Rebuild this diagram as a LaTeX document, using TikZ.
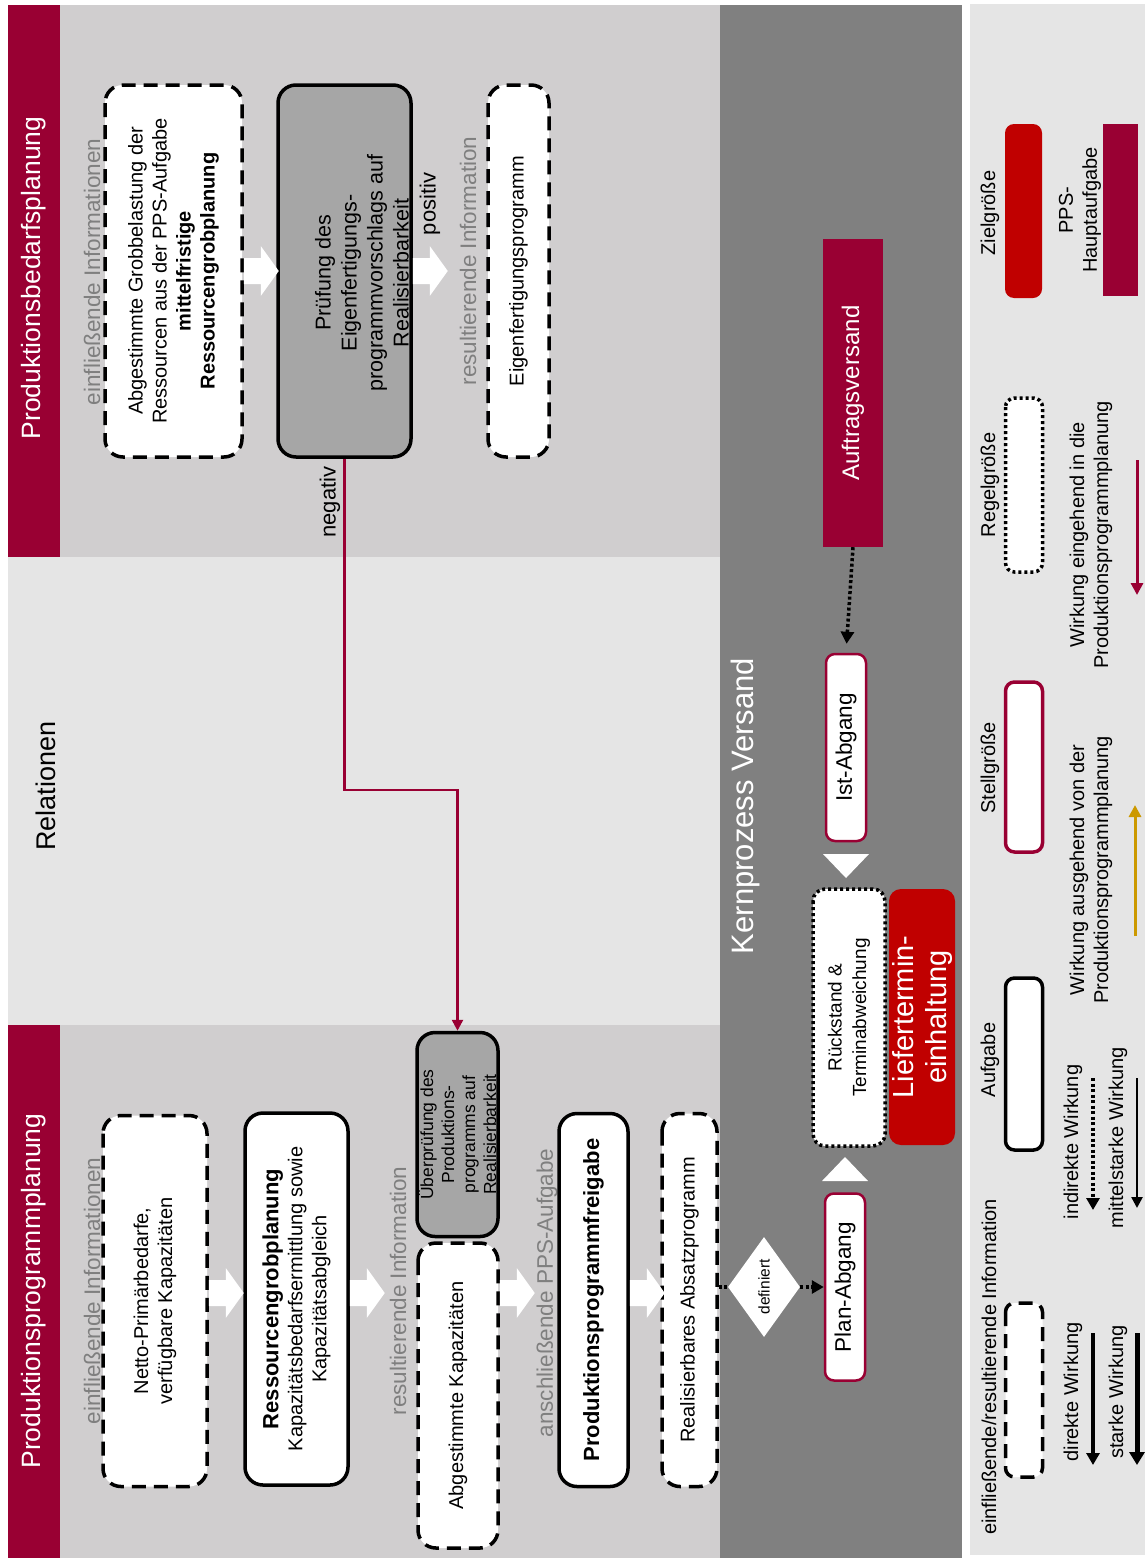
\documentclass[tikz,border=0pt]{standalone}
\usepackage{fontspec}
\setmainfont{Liberation Sans}
\usetikzlibrary{shapes.geometric,arrows.meta,calc}
\definecolor{crim}{HTML}{990033}
\definecolor{zielrot}{HTML}{C00000}
\definecolor{bodygray}{HTML}{D0CECF}
\definecolor{relgray}{HTML}{E5E5E5}
\definecolor{coregray}{HTML}{808080}
\definecolor{boxgray}{HTML}{A6A6A6}
\definecolor{labelgray}{HTML}{7F7F7F}
\definecolor{goldline}{HTML}{CC9900}
\newcommand{\fsz}[2]{\fontsize{#1}{#2}\selectfont}

\tikzset{
  txt/.style={rotate=90, align=center, inner sep=0pt, font=\fsz{20}{24}},
  glabel/.style={txt, text=labelgray, font=\fsz{22.5}{27}},
  infobox/.style={txt, draw, fill=white, line width=3.5pt, dash pattern=on 14pt off 8pt, rounded corners=18pt},
  taskbox/.style={txt, draw, fill=white, line width=3.5pt, rounded corners=18pt},
  checkbox/.style={taskbox, fill=boxgray},
  stellbox/.style={txt, draw=crim, fill=white, line width=2.5pt, rounded corners=9pt, font=\fsz{22.5}{27}},
  regelbox/.style={txt, draw, fill=white, line width=3.5pt, dash pattern=on 3pt off 3pt, rounded corners=12pt},
  legbox/.style={txt, line width=3.5pt, rounded corners=9pt, minimum width=172pt, minimum height=37pt},
  relline/.style={draw=crim, line width=2.5pt, -{Triangle[width=11pt,length=11pt]}},
  dotline/.style={line width=3.5pt, dash pattern=on 3pt off 2.5pt},
  dotarrow/.style={dotline, -{Triangle[width=13pt,length=12pt]}},
  blockR/.pic={\fill[white] (0,-13) -- (17,-13) -- (17,-25) -- (35,0) -- (17,25) -- (17,13) -- (0,13) -- cycle;},
  triUp/.pic={\fill[white] (-23,0) -- (23,0) -- (0,-24) -- cycle;},
  triDown/.pic={\fill[white] (-23,0) -- (23,0) -- (0,24) -- cycle;},
}

\begin{document}
\begin{tikzpicture}[x=1pt,y=-1pt]
\useasboundingbox[fill=white] (0,0) rectangle (1145,1558);

% background bands
\fill[bodygray] (60,5) rectangle (720,557);
\fill[crim] (8,5) rectangle (60,557);
\fill[relgray] (8,557) rectangle (720,1025);
\fill[bodygray] (60,1025) rectangle (720,1558);
\fill[crim] (8,1025) rectangle (60,1558);
\fill[coregray] (720,5) rectangle (962,1558);
\fill[relgray] (970,4) rectangle (1145,1555);

% band titles
\node[txt, text=white, font=\fsz{26.5}{30}] (tPBP) at (34,278) {Produktionsbedarfsplanung};
\node[txt, text=white, font=\fsz{26.5}{30}] (tPPP) at (34,1291) {Produktionsprogrammplanung};
\node[txt, font=\fsz{27}{30}] (tRel) at (46,786) {Relationen};
\node[txt, text=white, font=\fsz{31}{34}] (tKern) at (745,806) {Kernprozess Versand};

% Produktionsbedarfsplanung
\node[glabel] (gInTop) at (92,272) {einfließende Informationen};
\node[infobox, minimum width=372pt, minimum height=137pt] (box1) at (173.5,271)
  {Abgestimmte Grobbelastung der\\Ressourcen aus der PPS-Aufgabe\\\textbf{mittelfristige}\\\textbf{Ressourcengrobplanung}};
\node[checkbox, minimum width=372pt, minimum height=133pt] (pruef) at (344.5,271) {};
\node[txt, font=\fsz{21.5}{26}] (pruefText) at (362,273)
  {Prüfung des\\Eigenfertigungs-\\programmvorschlags auf\\Realisierbarkeit};
\node[txt, font=\fsz{22}{26}] (lPos) at (430,204) {positiv};
\node[glabel] (gOutTop) at (468,261) {resultierende Information};
\node[infobox, minimum width=372pt, minimum height=61pt] (box3) at (518.5,271) {Eigenfertigungsprogramm};
\node[txt, font=\fsz{22}{26}] (lNeg) at (330,502) {negativ};
\pic at (box1.south) {blockR};
\pic at (pruef.south) {blockR};

% Produktionsprogrammplanung
\node[glabel] (gInBot) at (92,1291) {einfließende Informationen};
\node[infobox, minimum width=371pt, minimum height=104pt] (netto) at (155,1301)
  {Netto-Primärbedarfe,\\verfügbare Kapazitäten};
\node[taskbox, minimum width=372pt, minimum height=103pt] (ress) at (296.5,1299)
  {{\fsz{22}{25}\textbf{Ressourcengrobplanung}}\\Kapazitätsbedarfsermittlung sowie\\Kapazitätsabgleich};
\node[glabel] (gOutBot) at (398,1291) {resultierende Information};
\node[checkbox, minimum width=204pt, minimum height=81pt, font=\fsz{17.5}{21}] (ueber) at (457.5,1134.5)
  {Überprüfung des\\Produktions-\\programms auf\\Realisierbarkeit};
\node[infobox, minimum width=305pt, minimum height=80pt] (abgest) at (458,1395.5) {Abgestimmte Kapazitäten};
\node[glabel] (gNext) at (547,1293) {anschließende PPS-Aufgabe};
\node[taskbox, minimum width=373pt, minimum height=69pt, font=\fsz{22}{26}] (freig) at (593.5,1300)
  {\textbf{Produktionsprogrammfreigabe}};
\node[infobox, minimum width=373pt, minimum height=55pt] (real) at (689.5,1300) {Realisierbares Absatzprogramm};
\pic at (netto.south |- 0,1293) {blockR};
\pic at (ress.south |- 0,1293) {blockR};
\pic at (abgest.south |- 0,1293) {blockR};
\pic at (freig.south |- 0,1293) {blockR};

% Kernprozess Versand
\node[txt, fill=crim, text=white, minimum width=308pt, minimum height=60pt, font=\fsz{24}{28}] (auftrag) at (853,393) {Auftragsversand};
\node[stellbox, minimum width=187pt, minimum height=40pt] (ist) at (846,747.5) {Ist-Abgang};
\node[regelbox, minimum width=257pt, minimum height=72pt, font=\fsz{19}{24.5}] (ruck) at (849,1017.5)
  {Rückstand \&\\Terminabweichung};
\node[txt, fill=zielrot, text=white, rounded corners=12pt, minimum width=256pt, minimum height=66pt, font=\fsz{29}{33}] (liefer) at (922,1017)
  {Liefertermin-\\einhaltung};
\node[txt, diamond, fill=white, minimum width=100pt, minimum height=72pt, font=\fsz{15.5}{18}] (dia) at (764,1287) {definiert};
\node[stellbox, minimum width=187pt, minimum height=40pt] (plan) at (845,1287) {Plan-Abgang};
\pic at (plan.east |- 0,1181) {triUp};
\pic at (ist.west |- 0,854) {triDown};

% connectors
\coordinate (knee) at (457.5,790);
\draw[relline] (pruef.west) |- (knee) -- (ueber.east);
\draw[dotarrow, shorten >=9pt] (auftrag.west) -- (ist.east);
\draw[dotline] (real.south |- dia) -- (dia.north);
\draw[dotarrow] (dia.south) -- (plan.north);

% legend: sample shapes
\node[legbox, fill=zielrot, minimum width=174pt] (kZiel) at (1023.5,211) {};
\node[legbox, fill=crim, rounded corners=0pt, minimum height=35pt] (kPPS) at (1120.5,210) {};
\node[legbox, draw, fill=white, dash pattern=on 3pt off 3pt, minimum width=174pt] (kRegel) at (1024,485) {};
\node[legbox, draw=crim, fill=white, minimum width=170pt] (kStell) at (1024,767) {};
\node[legbox, draw, fill=white] (kAufg) at (1024,1064) {};
\node[legbox, draw, fill=white, dash pattern=on 14pt off 8pt, minimum width=174pt] (kInfo) at (1024,1390) {};

% legend: captions
\node[txt] (lZiel) at (990,213) {Zielgröße};
\node[txt] (lPPS) at (1080,210) {PPS-\\Hauptaufgabe};
\node[txt] (lRegel) at (990,485) {Regelgröße};
\node[txt] (lEin) at (1091,535) {Wirkung eingehend in die\\Produktionsprogrammplanung};
\node[txt] (lStell) at (990,768) {Stellgröße};
\node[txt] (lAus) at (1091,870) {Wirkung ausgehend von der\\Produktionsprogrammplanung};
\node[txt] (lAufg) at (990,1060) {Aufgabe};
\node[txt] (lInfo) at (989,1367) {einfließende/resultierende Information};
\node[txt] (lInd) at (1073,1142) {indirekte Wirkung};
\node[txt] (lMit) at (1118,1138) {mittelstarke Wirkung};
\node[txt] (lDir) at (1073,1392) {direkte Wirkung};
\node[txt] (lSta) at (1118,1392) {starke Wirkung};

% legend: sample arrows
\coordinate (eA) at (1137,460);  \coordinate (eB) at (1137,595);
\coordinate (aA) at (1135,936);  \coordinate (aB) at (1135,805);
\coordinate (iA) at (1093,1078); \coordinate (iB) at (1093,1210);
\coordinate (mA) at (1137,1078); \coordinate (mB) at (1137,1208);
\coordinate (dA) at (1093,1333); \coordinate (dB) at (1093,1465);
\coordinate (sA) at (1137,1333); \coordinate (sB) at (1137,1465);
\draw[crim, line width=3pt, -{Triangle[width=12pt,length=12pt]}] (eA) -- (eB);
\draw[goldline, line width=3pt, -{Triangle[width=12pt,length=12pt]}] (aA) -- (aB);
\draw[dotarrow] (iA) -- (iB);
\draw[line width=2.5pt, -{Triangle[width=11pt,length=11pt]}] (mA) -- (mB);
\draw[line width=3.5pt, -{Triangle[width=13pt,length=12pt]}] (dA) -- (dB);
\draw[line width=5pt, -{Triangle[width=15pt,length=13pt]}] (sA) -- (sB);
\end{tikzpicture}
\end{document}
